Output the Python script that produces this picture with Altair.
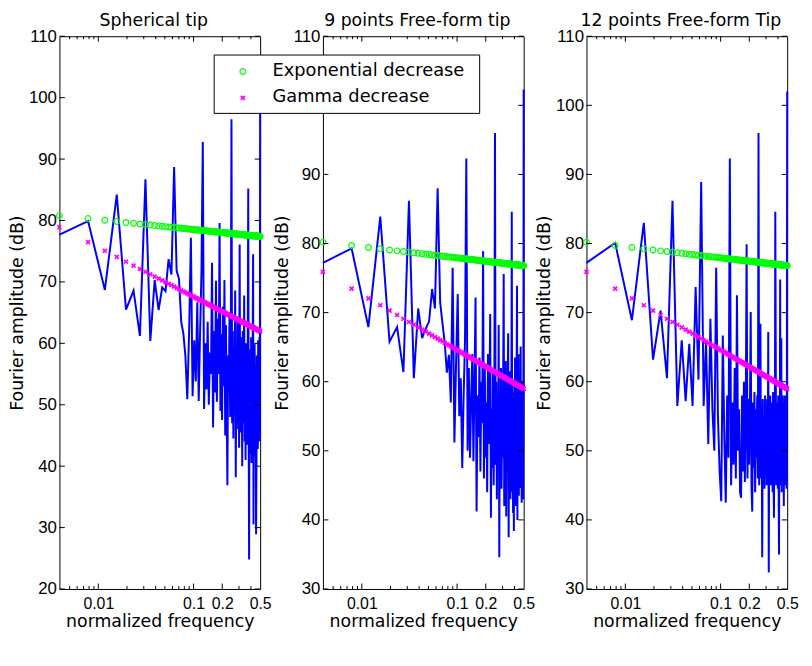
import altair as alt
import pandas as pd

# ---------------- data ----------------
titles = ["Spherical tip", "9 points Free-form tip", "12 points Free-form Tip"]
legend_labels = ["Exponential decrease", "Gamma decrease"]

# normalized frequency bins: k/256, k = 1..128
n_bins = 128
freq = [k / 256 for k in range(1, n_bins + 1)]

blue_sph = [
    77.7, 79.9, 68.7, 84.2, 65.5, 68.6, 61.2, 86.7, 60.4, 70.3,
    65.4, 69.1, 68.5, 73.7, 71.2, 88.7, 71.8, 70.5, 63.5, 61.6,
    58.0, 50.9, 62.0, 77.2, 51.4, 60.5, 53.8, 66.7, 50.6, 62.0,
    71.8, 92.8, 49.3, 60.0, 52.5, 63.5, 50.0, 58.5, 55.0, 73.1,
    46.3, 62.0, 52.0, 70.2, 50.5, 64.0, 55.0, 79.6, 49.0, 61.5,
    47.5, 66.0, 53.0, 70.3, 45.0, 63.0, 50.0, 36.9, 58.0, 52.0,
    64.5, 48.0, 60.0, 96.5, 47.0, 62.0, 44.5, 58.0, 52.0, 68.6,
    38.2, 60.0, 46.0, 63.5, 50.0, 57.0, 43.0, 76.1, 45.5, 61.0,
    48.0, 55.5, 40.0, 62.0, 47.0, 53.0, 67.8, 44.0, 58.5, 41.0,
    60.0, 49.0, 56.0, 43.5, 62.5, 85.2, 46.0, 24.8, 55.0, 42.0,
    59.0, 47.5, 61.0, 40.5, 57.0, 45.0, 63.0, 74.5, 30.5, 52.0,
    44.0, 60.0, 41.5, 56.5, 48.0, 28.9, 38.5, 58.0, 46.0, 54.0,
    42.8, 60.5, 47.0, 57.0, 44.0, 61.0, 45.0, 102.2,
]
blue_ff9 = [
    77.2, 79.3, 67.9, 83.9, 65.8, 67.9, 61.4, 86.2, 60.5, 70.6,
    66.3, 67.7, 68.7, 73.4, 70.6, 88.0, 71.5, 68.4, 65.6, 61.3,
    63.9, 57.0, 76.5, 51.2, 63.0, 72.7, 55.0, 60.5, 47.5, 58.0,
    66.0, 92.3, 50.0, 62.0, 49.0, 57.5, 64.0, 48.5, 60.0, 72.2,
    41.2, 58.0, 52.0, 63.5, 47.0, 60.0, 54.0, 78.9, 46.0, 62.5,
    49.0, 57.0, 44.0, 64.0, 51.0, 59.0, 69.8, 40.3, 56.0, 47.5,
    62.0, 45.0, 58.0, 96.0, 48.0, 60.0, 43.0, 56.5, 50.0, 68.2,
    34.6, 58.0, 46.0, 62.0, 44.5, 55.0, 49.0, 61.0, 75.6, 42.0,
    57.0, 47.0, 63.0, 40.5, 55.0, 48.0, 60.0, 67.0, 37.5, 54.0,
    45.5, 61.5, 43.0, 57.0, 50.0, 84.6, 44.0, 58.5, 41.0, 55.0,
    38.4, 60.0, 46.5, 63.5, 42.0, 56.0, 48.0, 62.0, 73.9, 40.0,
    58.0, 45.0, 64.0, 43.5, 57.5, 49.0, 61.0, 44.6, 65.1, 47.0,
    55.0, 42.5, 60.0, 46.0, 58.0, 43.0, 56.0, 102.3,
]
blue_ff12 = [
    77.2, 80.1, 68.9, 83.0, 63.2, 70.3, 60.5, 86.2, 56.5, 66.0,
    57.2, 65.5, 56.5, 73.7, 60.3, 88.9, 56.5, 66.0, 51.0, 69.1,
    56.0, 50.0, 76.5, 55.0, 47.0, 42.7, 66.7, 52.0, 42.5, 58.0,
    49.0, 92.3, 45.0, 57.0, 48.0, 62.0, 46.0, 72.5, 50.0, 56.0,
    44.0, 43.2, 58.0, 47.0, 60.0, 45.5, 55.0, 79.9, 46.0, 57.5,
    48.0, 56.0, 70.1, 45.0, 41.2, 57.0, 47.5, 58.5, 44.0, 56.0,
    49.0, 58.0, 46.0, 96.0, 45.0, 57.0, 68.4, 46.0, 56.5, 34.6,
    57.5, 47.0, 55.0, 44.5, 58.0, 48.0, 56.0, 45.0, 57.5, 46.5,
    67.2, 32.4, 56.0, 47.0, 58.0, 45.0, 55.5, 48.5, 57.0, 44.0,
    58.5, 46.0, 40.3, 56.5, 48.0, 84.6, 66.3, 45.0, 57.0, 47.0,
    55.5, 44.5, 58.0, 46.5, 35.0, 57.0, 48.0, 74.8, 45.0, 56.0,
    66.3, 44.0, 57.5, 47.0, 58.0, 45.5, 56.0, 42.0, 57.0, 46.0,
    58.0, 45.0, 55.0, 47.5, 57.0, 44.5, 58.0, 102.0,
]

green_sph = [
    80.80, 80.31, 80.03, 79.83, 79.67, 79.54, 79.44, 79.34, 79.26, 79.19,
    79.12, 79.06, 79.00, 78.95, 78.90, 78.86, 78.81, 78.77, 78.74, 78.70,
    78.67, 78.63, 78.60, 78.57, 78.54, 78.52, 78.49, 78.46, 78.44, 78.42,
    78.39, 78.37, 78.35, 78.33, 78.31, 78.29, 78.27, 78.25, 78.23, 78.21,
    78.20, 78.18, 78.16, 78.15, 78.13, 78.12, 78.10, 78.09, 78.07, 78.06,
    78.04, 78.03, 78.02, 78.00, 77.99, 77.98, 77.97, 77.95, 77.94, 77.93,
    77.92, 77.91, 77.90, 77.89, 77.87, 77.86, 77.85, 77.84, 77.83, 77.82,
    77.81, 77.80, 77.79, 77.78, 77.77, 77.76, 77.76, 77.75, 77.74, 77.73,
    77.72, 77.71, 77.70, 77.69, 77.69, 77.68, 77.67, 77.66, 77.65, 77.65,
    77.64, 77.63, 77.62, 77.62, 77.61, 77.60, 77.59, 77.59, 77.58, 77.57,
    77.57, 77.56, 77.55, 77.54, 77.54, 77.53, 77.53, 77.52, 77.51, 77.51,
    77.50, 77.49, 77.49, 77.48, 77.47, 77.47, 77.46, 77.46, 77.45, 77.44,
    77.44, 77.43, 77.43, 77.42, 77.42, 77.41, 77.40, 77.40,
]
green_ff = [
    80.20, 79.71, 79.43, 79.23, 79.07, 78.94, 78.84, 78.74, 78.66, 78.59,
    78.52, 78.46, 78.40, 78.35, 78.30, 78.26, 78.21, 78.17, 78.14, 78.10,
    78.07, 78.03, 78.00, 77.97, 77.94, 77.92, 77.89, 77.86, 77.84, 77.82,
    77.79, 77.77, 77.75, 77.73, 77.71, 77.69, 77.67, 77.65, 77.63, 77.61,
    77.60, 77.58, 77.56, 77.55, 77.53, 77.52, 77.50, 77.49, 77.47, 77.46,
    77.44, 77.43, 77.42, 77.40, 77.39, 77.38, 77.37, 77.35, 77.34, 77.33,
    77.32, 77.31, 77.30, 77.29, 77.27, 77.26, 77.25, 77.24, 77.23, 77.22,
    77.21, 77.20, 77.19, 77.18, 77.17, 77.16, 77.16, 77.15, 77.14, 77.13,
    77.12, 77.11, 77.10, 77.09, 77.09, 77.08, 77.07, 77.06, 77.05, 77.05,
    77.04, 77.03, 77.02, 77.02, 77.01, 77.00, 76.99, 76.99, 76.98, 76.97,
    76.97, 76.96, 76.95, 76.94, 76.94, 76.93, 76.93, 76.92, 76.91, 76.91,
    76.90, 76.89, 76.89, 76.88, 76.87, 76.87, 76.86, 76.86, 76.85, 76.84,
    76.84, 76.83, 76.83, 76.82, 76.82, 76.81, 76.80, 76.80,
]
magenta_sph = [
    78.90, 76.48, 75.07, 74.07, 73.29, 72.65, 72.11, 71.65, 71.24, 70.87,
    70.54, 70.24, 69.95, 69.70, 69.46, 69.23, 69.02, 68.82, 68.63, 68.45,
    68.28, 68.12, 67.96, 67.82, 67.67, 67.54, 67.41, 67.28, 67.16, 67.04,
    66.93, 66.82, 66.70, 66.61, 66.50, 66.41, 66.31, 66.21, 66.12, 66.04,
    65.95, 65.87, 65.79, 65.71, 65.63, 65.55, 65.47, 65.40, 65.33, 65.26,
    65.19, 65.12, 65.06, 64.99, 64.93, 64.86, 64.80, 64.74, 64.68, 64.62,
    64.57, 64.51, 64.45, 64.40, 64.34, 64.29, 64.24, 64.18, 64.13, 64.09,
    64.04, 63.99, 63.94, 63.89, 63.84, 63.80, 63.76, 63.71, 63.66, 63.62,
    63.58, 63.53, 63.49, 63.45, 63.41, 63.37, 63.32, 63.29, 63.25, 63.21,
    63.17, 63.13, 63.10, 63.06, 63.02, 62.98, 62.94, 62.91, 62.87, 62.84,
    62.81, 62.77, 62.74, 62.70, 62.67, 62.64, 62.61, 62.57, 62.54, 62.51,
    62.48, 62.45, 62.41, 62.38, 62.35, 62.33, 62.29, 62.26, 62.23, 62.21,
    62.17, 62.15, 62.12, 62.09, 62.06, 62.04, 62.01, 61.98,
]
magenta_ff = [
    75.90, 73.48, 72.07, 71.07, 70.29, 69.65, 69.11, 68.65, 68.24, 67.87,
    67.54, 67.24, 66.95, 66.70, 66.46, 66.23, 66.02, 65.82, 65.63, 65.45,
    65.28, 65.12, 64.96, 64.82, 64.67, 64.54, 64.41, 64.28, 64.16, 64.04,
    63.93, 63.82, 63.70, 63.61, 63.50, 63.41, 63.31, 63.21, 63.12, 63.04,
    62.95, 62.87, 62.79, 62.71, 62.63, 62.55, 62.47, 62.40, 62.33, 62.26,
    62.19, 62.12, 62.06, 61.99, 61.93, 61.86, 61.80, 61.74, 61.68, 61.62,
    61.57, 61.51, 61.45, 61.40, 61.34, 61.29, 61.24, 61.18, 61.13, 61.09,
    61.04, 60.99, 60.94, 60.89, 60.84, 60.80, 60.76, 60.71, 60.66, 60.62,
    60.58, 60.53, 60.49, 60.45, 60.41, 60.37, 60.32, 60.29, 60.25, 60.21,
    60.17, 60.13, 60.10, 60.06, 60.02, 59.98, 59.94, 59.91, 59.87, 59.84,
    59.81, 59.77, 59.74, 59.70, 59.67, 59.64, 59.61, 59.57, 59.54, 59.51,
    59.48, 59.45, 59.41, 59.38, 59.35, 59.33, 59.29, 59.26, 59.23, 59.21,
    59.17, 59.15, 59.12, 59.09, 59.06, 59.04, 59.01, 58.98,
]

x_tick_labels = [0.01, 0.1, 0.2, 0.5]
x_major_ticks = [0.01, 0.1, 0.2]
x_minor_ticks = [0.005, 0.006, 0.007, 0.008, 0.009,
                 0.02, 0.03, 0.04, 0.05, 0.06, 0.07, 0.08, 0.09, 0.3, 0.4]
y_ticks_sph = [20, 30, 40, 50, 60, 70, 80, 90, 100, 110]
y_ticks_ff = [30, 40, 50, 60, 70, 80, 90, 100, 110]
# in the middle panel the "100" label sits under the legend box
y_labels_ff9 = [30, 40, 50, 60, 70, 80, 90, 110]

# ---------------- styling ----------------
W, H = 203, 559
TXT_FONT = "DejaVu Sans"
NUM_FONT = "Liberation Sans"
X_PATH = "M-1,-1L1,1M-1,1L1,-1"


def series_df(values):
    return pd.DataFrame({"x": freq[:len(values)], "y": values})


def panel(title, blue, green, magenta, ymin, yticks, ylabels, with_legend=False):
    xs = alt.Scale(type="log", domain=[1 / 256, 0.5], nice=False)
    ys = alt.Scale(domain=[ymin, 110], nice=False, zero=False)
    x_axis = alt.Axis(values=x_tick_labels, format="~g", title="normalized frequency",
                      ticks=False, domain=False, grid=False, labelFlush=False,
                      labelOverlap=False, labelFontSize=16, labelPadding=7,
                      titlePadding=1)
    y_axis = alt.Axis(values=ylabels, format="d", title="Fourier amplitude (dB)",
                      ticks=False, domain=False, grid=False, labelPadding=3,
                      titlePadding=2)
    X = lambda: alt.X("x:Q", scale=xs, axis=x_axis)
    Y = lambda: alt.Y("y:Q", scale=ys, axis=y_axis)

    line = alt.Chart(series_df(blue)).mark_line(color="#0000ff", strokeWidth=2).encode(
        x=X(), y=Y())
    gpts = alt.Chart(series_df(green)).mark_point(
        shape="circle", filled=False, color="#00ff00", size=34, strokeWidth=1.2, opacity=1
    ).encode(x=X(), y=Y())
    mpts = alt.Chart(series_df(magenta)).mark_point(
        shape=X_PATH, filled=False, color="#ff00ff", size=16, strokeWidth=1.7, opacity=1
    ).encode(x=X(), y=Y())

    xmaj = pd.DataFrame({"x": x_major_ticks})
    xmin = pd.DataFrame({"x": x_minor_ticks})
    ytk = pd.DataFrame({"y": yticks})
    tick_style = dict(color="black", strokeWidth=1)
    ticks = [
        alt.Chart(xmaj).mark_rule(**tick_style).encode(x=X(), y=alt.value(H), y2=alt.value(H - 5.5)),
        alt.Chart(xmaj).mark_rule(**tick_style).encode(x=X(), y=alt.value(0), y2=alt.value(5.5)),
        alt.Chart(xmin).mark_rule(**tick_style).encode(x=X(), y=alt.value(H), y2=alt.value(H - 3)),
        alt.Chart(xmin).mark_rule(**tick_style).encode(x=X(), y=alt.value(0), y2=alt.value(3)),
        alt.Chart(ytk).mark_rule(**tick_style).encode(y=Y(), x=alt.value(0), x2=alt.value(5.5)),
        alt.Chart(ytk).mark_rule(**tick_style).encode(y=Y(), x=alt.value(W), x2=alt.value(W - 5.5)),
    ]

    layers = [line, gpts, mpts] + ticks

    if with_legend:
        one = pd.DataFrame({"a": [0]})
        box = alt.Chart(one).mark_rect(fill="white", stroke="black", strokeWidth=1).encode(
            x=alt.value(-110), x2=alt.value(158.5), y=alt.value(19), y2=alt.value(78))
        lg = alt.Chart(one).mark_point(shape="circle", filled=False, color="#00ff00",
                                       size=34, strokeWidth=1.2, opacity=1).encode(
            x=alt.value(-81), y=alt.value(35.7))
        lm = alt.Chart(one).mark_point(shape=X_PATH, filled=False, color="#ff00ff",
                                       size=16, strokeWidth=1.7, opacity=1).encode(
            x=alt.value(-81), y=alt.value(62.3))
        t1 = alt.Chart(one).mark_text(align="left", baseline="alphabetic", font=TXT_FONT,
                                      fontSize=18, color="black").encode(
            x=alt.value(-51), y=alt.value(40.5), text=alt.value(legend_labels[0]))
        t2 = alt.Chart(one).mark_text(align="left", baseline="alphabetic", font=TXT_FONT,
                                      fontSize=18, color="black").encode(
            x=alt.value(-51), y=alt.value(67), text=alt.value(legend_labels[1]))
        layers += [box, lg, lm, t1, t2]

    return alt.layer(*layers).properties(
        width=W, height=H,
        title=alt.TitleParams(title, dx=-6, offset=-2, font=TXT_FONT, fontSize=17.5,
                              fontWeight="normal", color="black"),
    )


p1 = panel(titles[0], blue_sph, green_sph, magenta_sph, 20, y_ticks_sph, y_ticks_sph)
p2 = panel(titles[1], blue_ff9, green_ff, magenta_ff, 30, y_ticks_ff, y_labels_ff9,
           with_legend=True)
p3 = panel(titles[2], blue_ff12, green_ff, magenta_ff, 30, y_ticks_ff, y_ticks_ff)

chart = alt.hconcat(p1, p2, p3, spacing=63.5, bounds="flush").properties(
    padding={"left": 0, "top": 0, "right": 5, "bottom": 5},
    background="white",
).configure_view(
    stroke="black", strokeWidth=1
).configure_axis(
    labelFont=NUM_FONT, labelFontSize=17, labelColor="black",
    titleFont=TXT_FONT, titleFontSize=17.5, titleColor="black", titleFontWeight="normal",
)

chart.save("out.html", embed_options={"renderer": "svg", "actions": False})
